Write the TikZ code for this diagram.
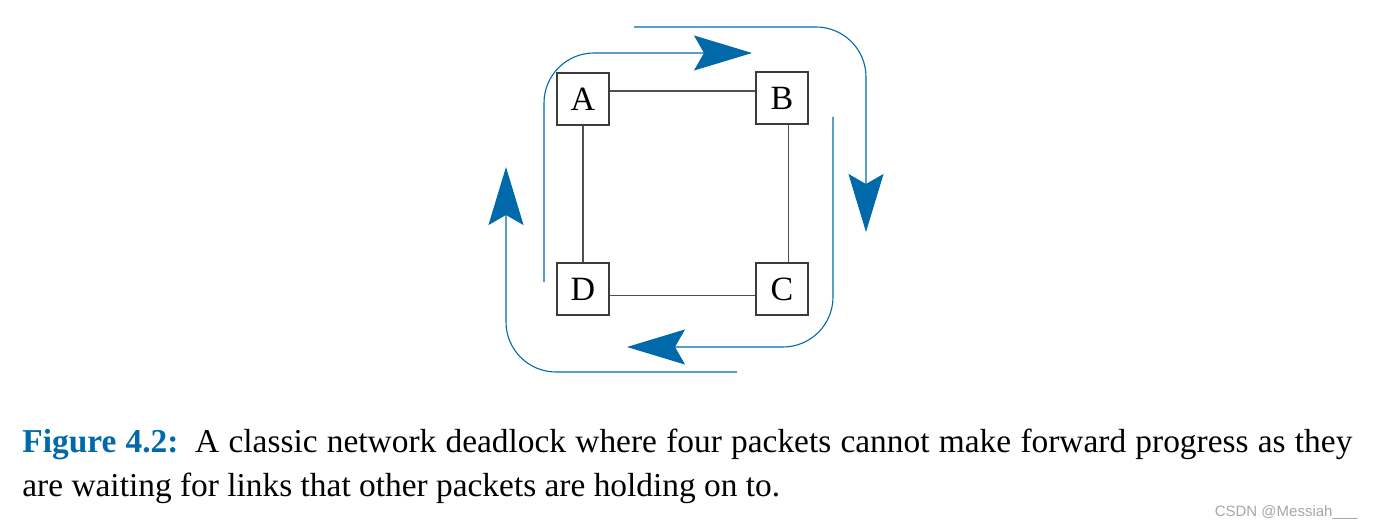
\documentclass[tikz,border=0pt]{standalone}
\usepackage{fontspec}
\setmainfont{Liberation Serif}
\setsansfont{Liberation Sans}
\usetikzlibrary{arrows.meta}
\definecolor{pktblue}{RGB}{0,105,170}
\definecolor{linkgray}{RGB}{60,60,60}
\tikzset{
	router/.style={rectangle, draw=linkgray, line width=0.6pt, minimum size=26pt, inner sep=0pt, font=\fontsize{17}{20}\selectfont},
	link/.style={draw=linkgray!90, line width=0.6pt},
	packet/.style={draw=pktblue, line width=0.55pt, rounded corners=25pt, -{Stealth[length=29pt, width=17.5pt, inset=5pt]}}
}
\begin{document}
\begin{tikzpicture}[
		x=0.5pt, y=-0.5pt,
		caption/.style={inner sep=0pt, text width=665pt, align=justify, font=\fontsize{16.7}{21.7}\selectfont},
		watermark/.style={inner sep=0pt, text=black!35, font=\sffamily\fontsize{7.5}{9}\selectfont}
		]
		\useasboundingbox (0,0) rectangle (1373,529);
		
		\node[router] (A) at (583,99) {A};
		\node[router] (B) at (782,98) {B};
		\node[router] (C) at (782,289) {C};
		\node[router] (D) at (583,289) {D};
		
		\draw[link] ([yshift=4pt]A.east) -- ([yshift=3.5pt]B.west);
		\draw[link] ([xshift=3.4pt]B.south) -- ([xshift=3.4pt]C.north);
		\draw[link] ([yshift=-3.4pt]D.east) -- ([yshift=-3.4pt]C.west);
		\draw[link] (A) -- (D);
		
		\coordinate (a0) at (634,27);
		\coordinate (b1) at (866,232);
		\coordinate (b0) at (833,117);
		\coordinate (c1) at (627,347);
		\coordinate (c0) at (737,372);
		\coordinate (d1) at (506,167);
		\coordinate (d0) at (544,282);
		\coordinate (a1) at (752,53);
		
		\draw[packet] (a0) -| (b1);
		\draw[packet] (b0) |- (c1);
		\draw[packet] (c0) -| (d1);
		\draw[packet] (d0) |- (a1);
		
		\node[caption, anchor=north west] (cap) at (22,429) {\textcolor{pktblue}{\textbf{Figure 4.2:}}\enspace A classic network deadlock where four packets cannot make forward progress as they\linebreak are waiting for links that other packets are holding on to.};
		\node[watermark, anchor=east] (csdn) at (1358,513) {CSDN @Messiah\_\_\_};
	\end{tikzpicture}
\end{document}
